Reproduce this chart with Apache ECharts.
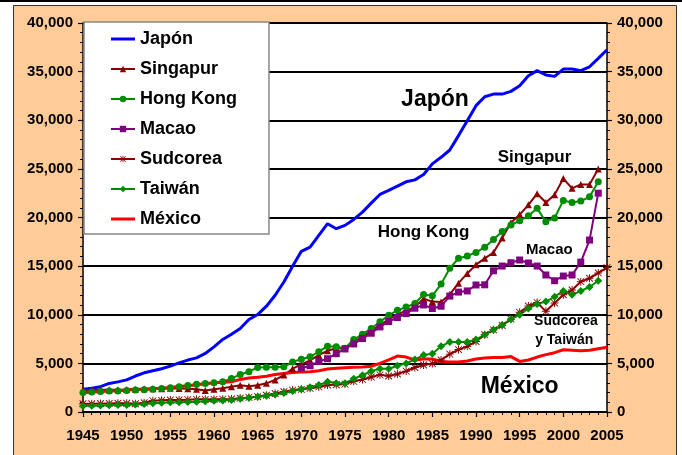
<!DOCTYPE html>
<html>
<head>
<meta charset="utf-8">
<script src="https://cdn.jsdelivr.net/npm/echarts@6/dist/echarts.min.js"></script>
<style>
html, body { margin: 0; padding: 0; background: #fff; }
#chart { width: 682px; height: 455px; }
</style>
</head>
<body>
<div id="chart"></div>
<script>
// PIB per cápita 1945-2005
var years = [];
for (var yr = 1945; yr <= 2005; yr++) years.push(yr);

var japon = [2330,2450,2600,2940,3100,3300,3700,4030,4240,4450,4720,5050,5340,5570,6020,
  6700,7460,8000,8590,9510,10020,10880,12000,13370,14980,16520,16960,18160,19360,18850,
  19190,19800,20550,21480,22370,22780,23220,23670,23870,24420,25510,26190,26940,28420,29960,
  31500,32420,32690,32690,32970,33550,34580,35100,34650,34510,35260,35260,35100,35500,36360,37250];
var singapur = [2250,2250,2280,2300,2300,2320,2350,2380,2380,2400,2430,2420,2400,2350,2200,
  2350,2450,2600,2750,2650,2750,2950,3300,3800,4450,4900,5300,5850,6300,6550,
  6500,7200,7750,8350,8950,9500,10050,10400,10800,11650,11350,11300,12100,13250,14250,
  15150,15800,16400,17900,19450,20300,21300,22450,21550,22350,24000,23000,23400,23400,25000];
var hongKong = [2000,2050,2100,2150,2150,2200,2250,2300,2350,2420,2500,2600,2720,2850,2930,
  3000,3100,3450,3850,4150,4580,4600,4600,4650,5150,5420,5680,6200,6770,6720,
  6560,7450,8000,8580,9270,9950,10450,10800,11150,12080,11950,13150,14780,15800,16050,
  16400,16950,17750,18550,19230,19670,20170,20940,19570,19950,21760,21540,21690,22130,23680];
var macaoStart = 1970;
var macao = [4500,4760,5190,5480,6000,6500,7000,7550,8100,8750,9300,9720,10120,10670,11010,
  10640,10880,11920,12330,12450,13060,13080,14520,15010,15350,15630,15320,15010,14090,13500,
  13980,14090,15410,17680,22500];
var sudcorea = [850,850,870,880,900,900,850,950,1150,1200,1230,1230,1270,1300,1300,
  1300,1320,1340,1420,1500,1570,1720,1900,2080,2250,2330,2430,2580,2770,2800,
  2870,3150,3350,3600,3820,3700,3900,4200,4580,4830,4980,5350,5950,6420,6750,
  7250,7950,8450,8900,9550,10250,10900,11250,10350,11200,12050,12550,13400,13750,14300,14850];
var taiwan = [620,650,680,700,720,730,770,830,890,940,990,1010,1040,1060,1100,
  1160,1190,1230,1370,1470,1570,1680,1800,1950,2150,2350,2550,2780,3100,2950,
  2950,3430,3780,4200,4450,4450,4750,5000,5400,5850,6000,6750,7200,7200,7200,
  7450,7950,8450,8950,9550,10000,10650,11100,11350,11850,12450,12050,12450,12850,13500];
var mexico = [1990,2050,2100,2150,2180,2250,2330,2330,2380,2450,2530,2620,2700,2800,2900,
  3000,3060,3110,3350,3500,3580,3680,3850,3950,4050,4120,4150,4250,4420,4500,
  4550,4600,4620,4700,5000,5350,5750,5650,5350,5450,5450,5200,5150,5150,5250,
  5450,5550,5600,5600,5700,5200,5350,5650,5900,6100,6400,6350,6300,6350,6500,6650];

// rótulos dentro del gráfico: [texto, año, valor, tamaño]
var notas = [
  ['Japón', 1985.3, 32100, 23],
  ['Singapur', 1996.7, 26200, 17],
  ['Hong Kong', 1984.0, 18500, 17],
  ['Macao', 1998.4, 16700, 15],
  ['Sudcorea', 2000.3, 9300, 14],
  ['y Taiwán', 2000.1, 7400, 14],
  ['México', 1995.0, 2600, 23]
];

var FONT = 'Arial, "Liberation Sans", sans-serif';

function puntos(inicio, vals) {
  return vals.map(function (v, i) { return [inicio + i, v]; });
}

// asterisco relleno (cuatro barras finas)
var asterisco = 'path://M4.4,0L5.6,0L5.6,10L4.4,10Z M0,4.4L10,4.4L10,5.6L0,5.6Z' +
  ' M1.2,0.4L9.6,8.8L8.8,9.6L0.4,1.2Z M8.8,0.4L9.6,1.2L1.2,9.6L0.4,8.8Z';
var soloLinea = 'path://M0,0L24,0L24,3L0,3Z';

var myChart = echarts.init(document.getElementById('chart'));
myChart.setOption({
  animation: false,
  backgroundColor: '#fff',
  grid: {
    left: 83, right: 75, top: 23, bottom: 43,
    show: true, backgroundColor: '#fff', borderWidth: 0
  },
  legend: {
    orient: 'vertical',
    left: 84, top: 22,
    backgroundColor: '#fff',
    borderColor: '#888', borderWidth: 1.5,
    padding: [8, 32, 6, 26],
    itemWidth: 24, itemHeight: 8, itemGap: 12,
    textStyle: { fontFamily: FONT, fontWeight: 'bold', fontSize: 18, color: '#000' },
    data: [
      { name: 'Japón', icon: soloLinea },
      'Singapur', 'Hong Kong', 'Macao', 'Sudcorea', 'Taiwán',
      { name: 'México', icon: soloLinea }
    ]
  },
  xAxis: {
    type: 'value', min: 1945, max: 2005, interval: 5,
    axisLine: { lineStyle: { color: '#000', width: 1.5 } },
    axisTick: { length: 5, lineStyle: { color: '#000', width: 1.2 } },
    minorTick: { show: true, splitNumber: 5, length: 3, lineStyle: { color: '#000' } },
    splitLine: { show: false },
    axisLabel: {
      margin: 16, color: '#000', fontFamily: FONT, fontWeight: 'bold', fontSize: 15,
      formatter: function (v) { return String(v); }
    }
  },
  yAxis: [{
    type: 'value', min: 0, max: 40000, interval: 5000,
    axisLine: { show: true, lineStyle: { color: '#000', width: 1.5 } },
    axisTick: { show: true, length: 5, lineStyle: { color: '#000', width: 1.2 } },
    minorTick: { show: true, splitNumber: 5, length: 3, lineStyle: { color: '#000' } },
    splitLine: { lineStyle: { color: '#000', width: 2 } },
    axisLabel: { margin: 10, color: '#000', fontFamily: FONT, fontWeight: 'bold', fontSize: 15 }
  }, {
    type: 'value', min: 0, max: 40000, interval: 5000, position: 'right',
    axisLine: { show: true, lineStyle: { color: '#000', width: 1.5 } },
    axisTick: { show: true, length: 5, lineStyle: { color: '#000', width: 1.2 } },
    minorTick: { show: true, splitNumber: 5, length: 3, lineStyle: { color: '#000' } },
    splitLine: { show: false },
    axisLabel: { margin: 10, color: '#000', fontFamily: FONT, fontWeight: 'bold', fontSize: 15 }
  }],
  series: [{
    name: 'Japón', type: 'line', symbol: 'none',
    lineStyle: { color: '#0000FF', width: 3 }, itemStyle: { color: '#0000FF' },
    data: puntos(1945, japon)
  }, {
    name: 'Singapur', type: 'line', symbol: 'triangle', symbolSize: 7,
    lineStyle: { color: '#8B0000', width: 2 }, itemStyle: { color: '#8B0000' },
    data: puntos(1945, singapur)
  }, {
    name: 'Hong Kong', type: 'line', symbol: 'circle', symbolSize: 7,
    lineStyle: { color: '#008C00', width: 2 }, itemStyle: { color: '#008C00' },
    data: puntos(1945, hongKong)
  }, {
    name: 'Macao', type: 'line', symbol: 'rect', symbolSize: 7,
    lineStyle: { color: '#800080', width: 2 }, itemStyle: { color: '#800080' },
    data: puntos(macaoStart, macao)
  }, {
    name: 'Sudcorea', type: 'line', symbol: asterisco, symbolSize: 8,
    lineStyle: { color: '#8B0000', width: 2 },
    itemStyle: { color: '#8B0000' },
    data: puntos(1945, sudcorea)
  }, {
    name: 'Taiwán', type: 'line', symbol: 'diamond', symbolSize: 8,
    lineStyle: { color: '#008C00', width: 2 }, itemStyle: { color: '#008C00' },
    data: puntos(1945, taiwan)
  }, {
    name: 'México', type: 'line', symbol: 'none',
    lineStyle: { color: '#FF0000', width: 3 }, itemStyle: { color: '#FF0000' },
    data: puntos(1945, mexico)
  }]
});

// fondo del panel y textos anclados a coordenadas de datos
var graficos = [
  { id: 'panel', type: 'rect', shape: { x: 13.5, y: 5.5, width: 663, height: 460 },
    style: { fill: '#FFCC99', stroke: '#333', lineWidth: 1 }, z: -10 },
  { id: 'raya', type: 'rect', shape: { x: 0, y: 0, width: 682, height: 2 },
    style: { fill: '#000' }, z: -10 }
];
notas.forEach(function (n, i) {
  var p = myChart.convertToPixel({ gridIndex: 0 }, [n[1], n[2]]);
  graficos.push({
    id: 'nota' + i, type: 'text', x: p[0], y: p[1], z: 20,
    style: {
      text: n[0], fill: '#000', align: 'center', verticalAlign: 'middle',
      font: 'bold ' + n[3] + 'px ' + FONT
    }
  });
});
myChart.setOption({ graphic: graficos });
</script>
</body>
</html>
